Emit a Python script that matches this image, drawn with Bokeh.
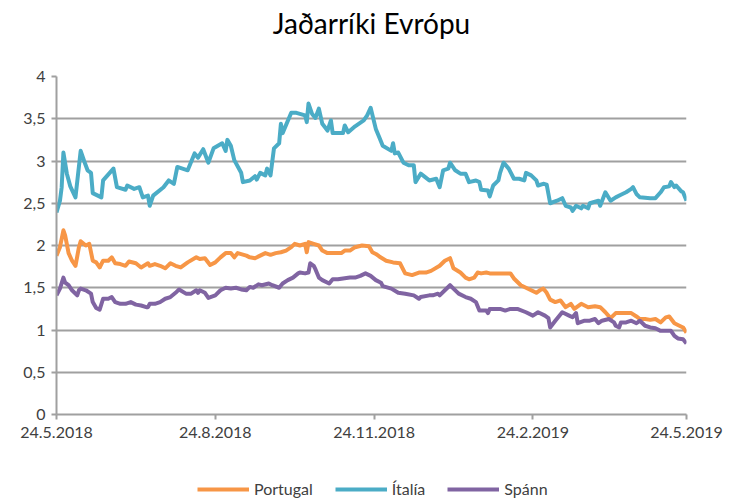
from datetime import datetime, timedelta
from bokeh.plotting import figure
from bokeh.layouts import column
from bokeh.models import (FixedTicker, CustomJSTickFormatter, Legend, LegendItem, Range1d, Label)
from bokeh.embed import file_html
from bokeh.resources import INLINE

# ---- data (day offsets from 24.5.2018, values in %) ----
start = datetime(2018, 5, 24)

italia_days = [0, 2, 3, 4, 6, 8, 11, 14, 16, 18, 20, 21, 26, 27, 33, 35, 40, 41, 45, 48, 50, 53, 54, 56,
               62, 65, 68, 70, 76, 80, 82, 85, 88, 91, 96, 98, 99, 101, 103, 107, 108, 112, 115, 116,
               118, 121, 122, 124, 126, 129, 130, 131, 136, 139, 144, 145, 146, 148, 150, 152, 154,
               157, 159, 160, 166, 167, 169, 173, 178, 180, 182, 185, 187, 189, 194, 195, 196, 198,
               201, 204, 207, 208, 211, 216, 220, 222, 224, 227, 228, 231, 234, 237, 239, 243, 245,
               246, 250, 251, 253, 256, 257, 259, 262, 265, 268, 271, 272, 275, 278, 279, 282, 284,
               286, 290, 293, 295, 298, 299, 301, 304, 305, 308, 309, 314, 315, 318, 321, 324, 327,
               330, 333, 334, 336, 338, 344, 347, 350, 352, 355, 356, 358, 359, 362, 363, 365]
italia = [2.39, 2.53, 2.69, 3.10, 2.85, 2.70, 2.57, 3.12, 3.00, 2.89, 2.86, 2.62, 2.57, 2.77, 2.91, 2.69,
          2.66, 2.71, 2.67, 2.69, 2.57, 2.59, 2.47, 2.59, 2.69, 2.77, 2.73, 2.93, 2.89, 3.09, 3.04,
          3.14, 2.98, 3.15, 3.21, 3.12, 3.25, 3.18, 3.01, 2.86, 2.75, 2.77, 2.82, 2.78, 2.86, 2.83,
          2.91, 2.83, 3.15, 3.21, 3.44, 3.33, 3.57, 3.57, 3.54, 3.46, 3.68, 3.56, 3.51, 3.62, 3.44,
          3.36, 3.48, 3.33, 3.33, 3.42, 3.34, 3.41, 3.48, 3.54, 3.63, 3.38, 3.28, 3.18, 3.12, 3.21,
          3.09, 3.10, 2.98, 2.95, 2.95, 2.75, 2.85, 2.77, 2.79, 2.69, 2.89, 2.91, 2.98, 2.89, 2.85,
          2.85, 2.75, 2.77, 2.75, 2.66, 2.65, 2.58, 2.71, 2.77, 2.86, 2.98, 2.91, 2.79, 2.79, 2.77,
          2.86, 2.83, 2.77, 2.71, 2.73, 2.72, 2.50, 2.53, 2.56, 2.47, 2.45, 2.41, 2.47, 2.44, 2.47,
          2.44, 2.50, 2.53, 2.47, 2.63, 2.53, 2.57, 2.60, 2.63, 2.67, 2.69, 2.61, 2.57, 2.56, 2.56,
          2.63, 2.69, 2.70, 2.75, 2.69, 2.71, 2.64, 2.63, 2.53]

portugal_days = [0, 2, 4, 5, 7, 9, 11, 13, 14, 17, 19, 21, 23, 25, 27, 30, 32, 34, 37, 40, 42, 46, 49,
                 53, 54, 57, 60, 63, 66, 69, 72, 76, 81, 83, 86, 89, 92, 95, 98, 101, 103, 105, 110,
                 112, 115, 118, 121, 124, 127, 130, 133, 136, 138, 141, 144, 145, 146, 149, 152, 154,
                 157, 160, 165, 167, 170, 173, 177, 181, 183, 185, 187, 191, 195, 199, 202, 206, 210,
                 214, 217, 222, 225, 228, 230, 234, 237, 239, 242, 244, 246, 249, 251, 256, 263, 265,
                 269, 272, 275, 278, 280, 282, 284, 286, 289, 292, 295, 298, 300, 304, 308, 312, 315,
                 318, 321, 324, 327, 330, 333, 336, 338, 341, 344, 347, 350, 353, 355, 358, 360, 363, 365]
portugal = [1.88, 1.98, 2.18, 2.12, 1.91, 1.82, 1.76, 1.98, 2.05, 2.00, 2.02, 1.82, 1.80, 1.74, 1.82,
            1.82, 1.86, 1.79, 1.78, 1.76, 1.81, 1.79, 1.74, 1.79, 1.76, 1.78, 1.76, 1.73, 1.79, 1.76,
            1.74, 1.80, 1.86, 1.84, 1.85, 1.77, 1.80, 1.86, 1.91, 1.91, 1.86, 1.91, 1.88, 1.86, 1.85,
            1.88, 1.91, 1.89, 1.91, 1.92, 1.94, 1.98, 2.02, 2.00, 2.02, 1.92, 2.04, 2.02, 2.00, 1.94,
            1.91, 1.91, 1.91, 1.94, 1.94, 1.98, 2.00, 1.99, 1.92, 1.90, 1.87, 1.82, 1.80, 1.79, 1.67,
            1.65, 1.68, 1.68, 1.70, 1.76, 1.82, 1.85, 1.73, 1.68, 1.62, 1.60, 1.62, 1.68, 1.67, 1.68,
            1.67, 1.67, 1.67, 1.61, 1.53, 1.50, 1.47, 1.44, 1.47, 1.49, 1.44, 1.36, 1.33, 1.35, 1.27,
            1.31, 1.25, 1.31, 1.27, 1.28, 1.27, 1.21, 1.14, 1.20, 1.20, 1.20, 1.20, 1.16, 1.13, 1.13,
            1.12, 1.13, 1.09, 1.15, 1.16, 1.08, 1.06, 1.03, 0.97]

spann_days = [0, 2, 4, 5, 7, 9, 12, 13, 14, 17, 20, 21, 23, 25, 27, 30, 32, 34, 37, 40, 43, 46, 49, 52,
              53, 54, 57, 60, 63, 66, 69, 71, 75, 78, 81, 82, 83, 86, 88, 92, 95, 98, 101, 104, 107,
              110, 112, 114, 117, 119, 123, 125, 129, 131, 134, 137, 140, 141, 144, 146, 147, 149, 150,
              152, 154, 158, 160, 163, 166, 170, 173, 176, 179, 182, 185, 188, 189, 194, 198, 202, 207,
              210, 211, 216, 218, 221, 222, 225, 228, 230, 233, 237, 240, 243, 245, 249, 250, 251, 257,
              260, 263, 267, 272, 276, 279, 283, 285, 286, 289, 293, 297, 299, 301, 302, 306, 309, 312,
              314, 316, 320, 323, 324, 326, 327, 330, 333, 336, 338, 341, 344, 347, 350, 353, 356, 358,
              360, 363, 365]
spann = [1.41, 1.49, 1.62, 1.56, 1.53, 1.47, 1.41, 1.47, 1.49, 1.47, 1.43, 1.33, 1.26, 1.24, 1.37, 1.37,
         1.39, 1.33, 1.31, 1.31, 1.33, 1.30, 1.29, 1.27, 1.27, 1.31, 1.31, 1.33, 1.37, 1.39, 1.44, 1.48,
         1.43, 1.43, 1.47, 1.44, 1.47, 1.44, 1.38, 1.41, 1.47, 1.50, 1.49, 1.50, 1.48, 1.47, 1.51, 1.50,
         1.54, 1.53, 1.55, 1.53, 1.50, 1.55, 1.59, 1.62, 1.67, 1.68, 1.67, 1.68, 1.79, 1.76, 1.72, 1.62,
         1.59, 1.55, 1.60, 1.60, 1.61, 1.62, 1.62, 1.64, 1.67, 1.64, 1.59, 1.56, 1.52, 1.49, 1.44, 1.43,
         1.41, 1.37, 1.39, 1.41, 1.41, 1.43, 1.41, 1.47, 1.53, 1.49, 1.43, 1.39, 1.37, 1.33, 1.23, 1.23,
         1.20, 1.25, 1.25, 1.23, 1.25, 1.25, 1.21, 1.17, 1.21, 1.17, 1.14, 1.03, 1.11, 1.21, 1.17, 1.15,
         1.20, 1.08, 1.11, 1.11, 1.13, 1.08, 1.11, 1.13, 1.09, 1.05, 1.03, 1.09, 1.09, 1.11, 1.08, 1.11,
         1.05, 1.03, 1.02, 0.99, 0.99, 0.99, 0.93, 0.90, 0.89, 0.84]

tick_days = [0, 92, 184, 276, 365]
y_ticks = [0, 0.5, 1, 1.5, 2, 2.5, 3, 3.5, 4]
title_text = "Jaðarríki Evrópu"
names = ["Portugal", "Ítalía", "Spánn"]
colors = ["#f79646", "#4bacc6", "#8064a2"]

def to_dates(days):
    return [start + timedelta(days=d) for d in days]

def ms(d):
    return (start + timedelta(days=d) - datetime(1970, 1, 1)).total_seconds() * 1000.0

FONT = "Lato"
TXT = "#404040"
GRID = "#a0a0a0"
LW = 4

def blank(height):
    f = figure(width=743, height=height, x_range=Range1d(0, 1), y_range=Range1d(0, 1),
               x_axis_type=None, y_axis_type=None, output_backend="svg", toolbar_location=None,
               min_border_left=0, min_border_right=0, min_border_top=0, min_border_bottom=0)
    f.outline_line_color = None
    f.xgrid.grid_line_color = None
    f.ygrid.grid_line_color = None
    f.border_fill_color = "white"
    f.background_fill_color = "white"
    return f

# ---- title strip ----
t = blank(44)
t.add_layout(Label(x=0.5, y=0.5, text=title_text, text_align="center", text_baseline="middle",
                   text_font=FONT, text_font_size="28px", text_color="black"))

# ---- main chart ----
p = figure(width=743, height=414, x_axis_type="datetime", output_backend="svg",
           toolbar_location=None, min_border_left=56, min_border_right=57,
           min_border_top=32, min_border_bottom=44)
p.x_range = Range1d(ms(tick_days[0]), ms(tick_days[-1]))
p.y_range = Range1d(0, 4)
p.outline_line_color = None
p.background_fill_color = "white"
p.border_fill_color = "white"

for days, vals, c in zip([portugal_days, italia_days, spann_days], [portugal, italia, spann], colors):
    p.line(to_dates(days), vals, line_color=c, line_width=LW, line_join="round")

p.xaxis.ticker = FixedTicker(ticks=[ms(d) for d in tick_days])
p.xaxis.formatter = CustomJSTickFormatter(code="""
const d = new Date(tick);
return d.getUTCDate() + '.' + (d.getUTCMonth() + 1) + '.' + d.getUTCFullYear();
""")
p.yaxis.ticker = FixedTicker(ticks=y_ticks)
p.yaxis.formatter = CustomJSTickFormatter(code="return tick.toString().replace('.', ',');")
for ax in (p.xaxis[0], p.yaxis[0]):
    ax.axis_line_color = GRID
    ax.axis_line_width = 2
    ax.major_tick_line_color = GRID
    ax.major_tick_line_width = 2
    ax.major_tick_out = 5
    ax.major_tick_in = 0
    ax.minor_tick_line_color = None
    ax.major_label_text_font = FONT
    ax.major_label_text_font_size = "16px"
    ax.major_label_text_color = TXT
p.xaxis.major_label_standoff = 7
p.yaxis.major_label_standoff = 6
p.xgrid.grid_line_color = None
p.ygrid.grid_line_color = GRID
p.ygrid.grid_line_width = 2

# ---- legend strip (frame aligned with the chart frame) ----
lg = blank(44)
items = []
for n, c in zip(names, colors):
    r = lg.line(x=[-2, -1], y=[-2, -2], line_color=c, line_width=LW)
    items.append(LegendItem(label=n, renderers=[r]))
legend = Legend(items=items, orientation="horizontal", location=(141, 4), border_line_color=None,
                background_fill_alpha=0, glyph_width=52, glyph_height=16, spacing=22,
                label_text_font=FONT, label_text_font_size="16px", label_text_color=TXT,
                padding=0, margin=0, label_standoff=5)
lg.add_layout(legend, "center")

layout = column(t, p, lg, spacing=0)
open("out.html", "w").write(file_html(layout, INLINE))
